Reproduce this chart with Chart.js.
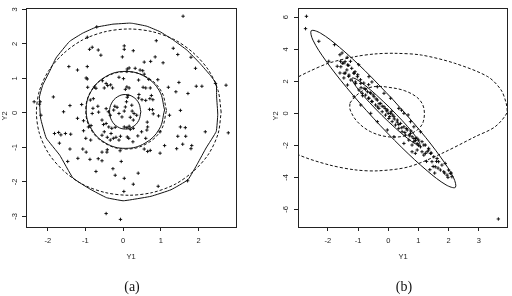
<!DOCTYPE html>
<html><head><meta charset="utf-8">
<script src="https://cdn.jsdelivr.net/npm/chart.js@4.4.1/dist/chart.umd.min.js"></script>
<style>
html,body{margin:0;padding:0;background:#fff;}
#wrap{position:relative;width:512px;height:296px;overflow:hidden;background:#fff;}
canvas{position:absolute;top:0;}
.lbl{position:absolute;font-family:"Liberation Sans",Arial,sans-serif;font-size:7.5px;line-height:9px;color:#222;white-space:nowrap;transform:translate(-50%,-50%);}
.rot{transform:translate(-50%,-50%) rotate(-90deg);}
.cap{position:absolute;font-family:"Liberation Serif","DejaVu Serif",serif;font-size:14px;line-height:16px;color:#111;white-space:nowrap;transform:translate(-50%,-50%);}
</style></head>
<body><div id="wrap">
<canvas id="ca" width="256" height="296" style="left:0"></canvas>
<canvas id="cb" width="256" height="296" style="left:256px"></canvas>
<div class="lbl" style="left:131px;top:256px">Y1</div>
<div class="lbl rot" style="left:4px;top:116px">Y2</div>
<div class="lbl" style="left:403px;top:256px">Y1</div>
<div class="lbl rot" style="left:275px;top:116px">Y2</div>
<div class="cap" style="left:132px;top:287px">(a)</div>
<div class="cap" style="left:404px;top:287px">(b)</div>
</div>
<script>
// tick labels
const xTicksA = [-2, -1, 0, 1, 2];
const yTicksA = [-3, -2, -1, 0, 1, 2, 3];
const xTicksB = [-2, -1, 0, 1, 2, 3];
const yTicksB = [-6, -4, -2, 0, 2, 4, 6];

// panel (a) observations (Y1, Y2)
const pointsA = [
[1.59,2.80],[-0.70,2.49],[-0.95,2.19],[-0.89,1.84],[-0.82,1.90],[-0.66,1.82],[-0.59,1.67],
[0.03,1.94],[0.03,1.84],[0.27,1.80],[-0.02,1.62],[0.88,2.09],[1.33,1.87],[1.45,1.69],
[0.85,1.62],[0.56,1.47],[0.73,1.49],[1.06,1.45],[1.80,1.61],[1.92,1.29],
[-1.44,1.34],[-1.21,1.24],[-0.95,1.34],[-0.98,1.01],[-0.95,0.98],[-0.94,0.74],[-0.76,0.75],[-0.72,0.71],
[-0.55,0.93],[-0.45,0.85],[-0.41,0.79],[-0.50,0.72],[-0.33,0.81],[-0.28,0.72],
[-0.11,1.03],[0.01,0.99],[0.11,1.27],[0.16,1.30],[0.10,1.20],[0.32,1.29],
[0.41,0.95],[0.45,1.24],[0.52,1.22],[0.56,1.12],[0.68,0.97],[0.72,0.72],[0.60,0.72],[0.53,0.74],
[0.92,0.96],[1.20,0.74],[1.40,0.61],[1.48,0.88],[1.94,0.77],[2.09,0.77],[2.45,0.85],[2.73,0.80],[1.72,0.56],
[-1.85,0.46],[-2.36,0.32],[-2.20,0.32],[-2.22,0.25],[-1.41,0.21],[-1.10,0.24],
[-0.87,0.37],[-0.79,0.41],[-0.80,0.13],[-0.82,-0.02],[-0.67,0.19],[-0.65,0.02],
[-0.45,0.12],[-0.39,0.03],[-0.34,-0.07],[-0.25,0.08],[-0.22,0.19],
[-0.16,0.16],[-0.11,-0.02],[-0.03,-0.12],[0.03,0.05],[0.06,0.17],[0.09,0.32],[0.11,0.45],[0.13,0.50],
[0.06,0.68],[0.10,0.75],[0.16,0.72],
[0.23,0.22],[0.24,0.05],[0.29,-0.02],[0.36,-0.07],[0.19,-0.13],[0.27,-0.21],[0.16,-0.39],
[0.41,0.43],[0.42,0.53],[0.50,0.38],[0.60,0.36],[0.71,0.41],[0.79,0.38],[0.75,0.50],
[0.70,0.10],[0.78,0.09],[0.80,-0.03],[0.94,-0.09],[1.23,-0.07],[1.52,0.07],
[-1.58,0.03],[-2.18,-0.07],[-1.21,-0.16],[-1.05,-0.23],[-0.92,-0.41],[-0.85,-0.37],[-1.05,-0.52],
[-0.56,-0.21],[-0.52,-0.34],[-0.45,-0.31],[-0.38,-0.41],[-0.30,-0.45],[-0.21,-0.42],[-0.32,-0.60],[-0.50,-0.55],[-0.56,-0.65],
[0.03,-0.41],[0.10,-0.43],[0.19,-0.48],[0.27,-0.45],[0.49,-0.55],[0.65,-0.41],[0.64,-0.27],[0.63,-0.50],[0.60,-0.74],[0.39,-0.67],
[0.98,-0.55],[1.52,-0.41],[1.65,-0.43],[1.45,-0.68],[1.66,-0.68],[2.18,-0.55],[2.79,-0.58],[1.58,-0.91],[1.82,-0.95],[1.10,-0.95],
[-1.82,-0.60],[-1.71,-0.57],[-1.65,-0.64],[-1.53,-0.60],[-1.39,-0.62],[-1.69,-0.88],
[-0.42,-0.71],[-0.34,-0.79],[-0.26,-0.74],[-0.19,-0.71],[-0.07,-0.68],[-0.11,-0.79],
[0.11,-0.70],[0.15,-0.74],[0.26,-0.84],[-0.99,-0.74],[-0.86,-0.79],
[-1.41,-1.05],[-1.07,-1.05],[-0.98,-1.14],[-0.42,-1.07],[-0.43,-1.14],[-0.56,-1.14],[-0.08,-1.10],
[0.56,-1.05],[0.65,-1.12],[0.72,-1.09],[0.98,-1.17],[1.42,-1.04],[1.80,-1.04],
[-1.47,-1.41],[-1.20,-1.32],[-0.88,-1.35],[-0.66,-1.33],[-0.56,-1.39],[-0.05,-1.41],
[-0.72,-1.70],[-0.27,-1.62],[-0.21,-1.81],[0.03,-1.90],[0.40,-1.75],[0.27,-2.07],[0.93,-2.13],[0.02,-2.28],[1.71,-1.97],
[-0.45,-2.92],[-0.07,-3.09]
];

// panel (a) contours
const outerSolidA = [
[-0.27,2.57],[0.17,2.60],[0.27,2.59],[0.63,2.51],[0.98,2.35],[1.33,2.11],[1.69,1.82],[2.04,1.43],[2.31,1.09],
[2.47,0.85],[2.48,0.46],[2.51,-0.04],[2.47,-0.54],[2.20,-1.02],[1.98,-1.46],[1.72,-1.94],[1.27,-2.23],[0.74,-2.42],
[0.21,-2.52],[0.00,-2.55],[-0.44,-2.46],[-0.88,-2.21],[-1.33,-1.89],[-1.68,-1.23],[-2.04,-0.73],[-2.19,-0.15],
[-2.22,0.46],[-2.13,0.81],[-1.95,1.20],[-1.78,1.59],[-1.42,2.07],[-1.07,2.31],[-0.72,2.48],[-0.27,2.57]
];
const outerDashedA = [
[2.60,0.02],[2.52,0.64],[2.27,1.23],[1.88,1.72],[1.38,2.11],[0.78,2.35],[0.15,2.43],[-0.48,2.35],[-1.08,2.11],
[-1.58,1.72],[-1.97,1.23],[-2.22,0.64],[-2.30,0.02],[-2.22,-0.60],[-1.97,-1.19],[-1.58,-1.68],[-1.08,-2.07],
[-0.48,-2.31],[0.15,-2.39],[0.78,-2.31],[1.38,-2.07],[1.88,-1.68],[2.27,-1.19],[2.52,-0.60],[2.60,0.02]
];
const midSolidA = [
[1.10,0.085],[0.96,0.64],[0.58,1.05],[0.06,1.20],[-0.46,1.05],[-0.84,0.64],[-0.98,0.085],
[-0.84,-0.47],[-0.46,-0.88],[0.06,-1.03],[0.58,-0.88],[0.96,-0.47],[1.10,0.085]
];
const midDashedA = [
[1.15,0.07],[1.01,0.63],[0.615,1.04],[0.08,1.19],[-0.455,1.04],[-0.85,0.63],[-0.99,0.07],
[-0.85,-0.49],[-0.455,-0.90],[0.08,-1.05],[0.615,-0.90],[1.01,-0.49],[1.15,0.07]
];
const innerSolidA = [
[0.47,0.03],[0.415,0.28],[0.265,0.46],[0.055,0.53],[-0.155,0.46],[-0.305,0.28],[-0.36,0.03],
[-0.305,-0.22],[-0.155,-0.40],[0.055,-0.47],[0.265,-0.40],[0.415,-0.22],[0.47,0.03]
];

// panel (b) observations (Y1, Y2)
const pointsB = [
[-2.71,6.06],[-2.74,5.29],[-2.30,4.50],[-1.78,4.29],[-1.60,3.66],
[-1.53,3.77],[-1.36,3.50],[-1.58,3.25],[-1.47,3.14],[-1.25,3.25],[-1.31,3.00],[-1.69,2.94],[-1.60,2.52],
[-1.42,2.52],[-1.31,2.31],[-1.47,2.21],[-1.14,2.52],[-0.98,3.04],[-1.01,2.41],[-0.92,2.10],[-1.09,1.96],
[-0.81,1.89],[-0.65,1.79],[-0.54,1.96],[-1.97,3.25],
[-1.52,3.13],[-1.35,3.02],[-1.57,2.91],[-1.43,3.23],[-1.37,2.71],[-1.21,2.81],[-1.10,2.60],
[-1.46,2.50],[-1.30,2.39],[-1.13,2.50],[-1.02,2.29],[-1.24,2.08],[-1.08,1.87],[-0.91,1.87],[-0.80,1.56],
[-0.97,1.46],[-0.69,1.35],[-0.86,1.25],[-0.75,1.14],[-0.58,1.25],[-0.47,1.04],[-0.64,0.94],[-0.36,0.83],
[-0.53,0.73],[-0.25,0.62],[-0.42,0.52],[-0.14,0.41],[-0.31,0.31],[-0.03,0.21],[-0.20,0.10],[0.08,0.00],
[-0.09,-0.11],[0.19,-0.21],[0.02,-0.32],[0.30,-0.42],[0.13,-0.52],[0.41,-0.63],[0.24,-0.73],[0.52,-0.84],
[0.35,-0.94],[0.63,-1.04],[0.46,-1.15],[0.74,-1.25],[0.57,-1.36],[0.85,-1.57],[0.68,-1.67],[0.96,-1.88],
[0.79,-1.98],[1.07,-2.09],
[-0.64,2.29],[-0.36,1.66],[-0.14,1.25],[0.08,0.94],[0.35,0.31],[0.52,0.00],[0.74,-0.52],[0.85,-0.84],[1.07,-1.15],
[-1.35,1.77],[-1.13,1.04],[-0.91,0.52],[-0.58,0.00],[-0.36,-0.52],[-0.03,-1.04],[0.19,-1.46],[0.52,-1.88],
[-0.90,1.60],[-0.75,1.50],[-0.60,1.30],[-0.85,1.10],[-0.50,1.15],[-0.65,0.95],[-0.40,0.90],[-0.55,0.75],
[-0.30,0.60],[-0.20,0.45],[-0.35,0.40],[-0.10,0.30],[0.00,0.00],[-0.05,0.15],[0.10,0.10],[0.05,-0.20],
[0.20,-0.35],[0.15,-0.10],[0.30,-0.55],[0.35,-0.70],[0.45,-0.90],[0.55,-1.20],[0.60,-0.95],[0.70,-1.40],
[0.75,-1.10],[0.90,-1.70],[0.95,-1.55],[1.00,-2.00],[0.66,-0.10],[0.44,0.20],
[0.79,-1.46],[0.90,-1.57],[0.85,-1.77],[1.01,-1.67],[1.12,-1.77],[1.18,-1.98],[0.96,-2.29],[1.12,-2.40],
[1.23,-2.50],[1.18,-2.61],[1.29,-2.40],[1.34,-2.29],[1.40,-2.50],[1.51,-2.71],[1.62,-2.82],[1.45,-3.02],
[1.67,-3.02],[1.78,-3.23],[1.89,-3.13],[1.56,-3.34],[1.73,-3.54],[1.84,-3.65],[2.00,-3.54],[1.95,-3.86],
[2.06,-3.75],[2.11,-3.96],[0.79,-2.40],[0.90,-2.50],[1.23,-1.98],[1.34,-2.19],
[1.43,-2.48],[1.27,-3.00],[1.60,-3.00],[1.49,-3.32],[1.65,-3.42],[1.87,-3.73],[2.09,-3.73],[1.98,-4.00],
[1.54,-3.73],[1.38,-3.52],
[3.65,-6.60]
];

// panel (b) contours
const outerEllB = [
[0.164,0.842],[1.054,-1.076],[1.756,-2.786],[2.168,-4.034],[2.225,-4.625],[1.918,-4.472],[1.294,-3.596],
[0.450,-2.134],[-0.490,-0.304],[-1.380,1.614],[-2.082,3.324],[-2.494,4.572],[-2.551,5.163],[-2.244,5.010],
[-1.620,4.134],[-0.776,2.672],[0.164,0.842]
];
const innerEllB = [
[0.051,0.355],[0.471,-0.466],[0.807,-1.197],[1.010,-1.731],[1.046,-1.984],[0.912,-1.919],[0.627,-1.543],
[0.237,-0.918],[-0.203,-0.135],[-0.623,0.686],[-0.959,1.417],[-1.162,1.951],[-1.198,2.204],[-1.064,2.139],
[-0.779,1.763],[-0.389,1.138],[0.051,0.355]
];
const smallDashB = [
[-1.27,0.64],[-1.10,1.04],[-0.77,1.50],[-0.41,1.68],[0.00,1.63],[0.55,1.41],[0.99,0.94],[1.18,0.33],
[1.16,-0.53],[0.96,-1.04],[0.52,-1.42],[-0.03,-1.46],[-0.58,-1.15],[-1.02,-0.53],[-1.26,0.21],[-1.27,0.64]
];
const bigDashB = [
[-2.97,2.29],[-2.64,2.60],[-1.98,3.13],[-1.10,3.54],[-0.44,3.71],[0.22,3.75],[1.10,3.64],[2.20,3.13],
[3.30,2.29],[3.74,1.46],[3.91,0.63],[3.95,0.08],[3.54,-0.84],[2.88,-1.46],[1.78,-2.50],[0.68,-3.34],
[-0.33,-3.59],[-1.10,-3.53],[-1.98,-3.21],[-2.97,-2.59],[-3.50,-1.90],[-3.85,-0.90],[-3.95,0.10],
[-3.80,1.00],[-3.45,1.70],[-2.97,2.29]
];

function xy(a){ return a.map(p => ({x: p[0], y: p[1]})); }
function curve(d, dashed, tension){
  return {data: xy(d), showLine: true, pointRadius: 0, borderColor: '#111', borderWidth: 1,
          borderDash: dashed ? [3, 2] : [], tension: tension, fill: false};
}
function pts(d){
  return {data: xy(d), showLine: false, pointStyle: 'cross', pointRadius: 1.7, pointBorderWidth: 0.9,
          borderColor: '#000', backgroundColor: '#000'};
}
const boxPlugin = {
  id: 'box',
  afterDraw(chart){
    const c = chart.ctx, a = chart.chartArea;
    c.save();
    c.strokeStyle = '#222'; c.lineWidth = 1;
    c.strokeRect(Math.round(a.left) + 0.5, Math.round(a.top) + 0.5,
                 Math.round(a.right) - Math.round(a.left), Math.round(a.bottom) - Math.round(a.top));
    c.restore();
  }
};
const tickFont = {family: 'Liberation Sans', size: 7.5};
function make(id, datasets, area, xr, yr, xt, yt, ypad){
  new Chart(document.getElementById(id), {
    type: 'scatter',
    data: {datasets},
    options: {
      responsive: false, animation: false, devicePixelRatio: 1, events: [],
      layout: {padding: {left: 0, top: area.top, right: 256 - area.right, bottom: 0}},
      plugins: {legend: {display: false}, tooltip: {enabled: false}},
      scales: {
        x: {
          type: 'linear', min: xr[0], max: xr[1],
          afterBuildTicks: s => { s.ticks = xt.map(v => ({value: v})); },
          afterFit: s => { s.height = 296 - area.bottom; s.paddingLeft = 0; s.paddingRight = 0; },
          grid: {drawOnChartArea: false, drawTicks: true, tickLength: 4, color: '#222', lineWidth: 1},
          border: {display: false},
          ticks: {font: tickFont, color: '#222', padding: 5, autoSkip: false, minRotation: 0, maxRotation: 0,
                  callback: v => String(v)}
        },
        y: {
          type: 'linear', min: yr[0], max: yr[1],
          afterBuildTicks: s => { s.ticks = yt.map(v => ({value: v})); },
          afterFit: s => { s.width = area.left; s.paddingTop = 0; s.paddingBottom = 0; },
          grid: {drawOnChartArea: false, drawTicks: true, tickLength: 4, color: '#222', lineWidth: 1},
          border: {display: false},
          ticks: {font: tickFont, color: '#222', padding: ypad, autoSkip: false, minRotation: 90, maxRotation: 90,
                  crossAlign: 'center', callback: v => String(v)}
        }
      }
    },
    plugins: [boxPlugin]
  });
}

make('ca', [
  curve(outerDashedA, true, 0.3),
  curve(outerSolidA, false, 0.1),
  curve(midDashedA, true, 0.4),
  curve(midSolidA, false, 0.4),
  curve(innerSolidA, false, 0.4),
  pts(pointsA)
], {left: 26, right: 236, top: 8, bottom: 227}, [-2.576, 2.994], [-3.31, 3.038], xTicksA, yTicksA, 3.5);

make('cb', [
  curve(bigDashB, true, 0.3),
  curve(smallDashB, true, 0.35),
  curve(outerEllB, false, 0.35),
  curve(innerEllB, false, 0.35),
  pts(pointsB)
], {left: 42, right: 252, top: 8, bottom: 227}, [-2.99, 3.94], [-7.1, 6.58], xTicksB, yTicksB, 5);
</script>
</body></html>
